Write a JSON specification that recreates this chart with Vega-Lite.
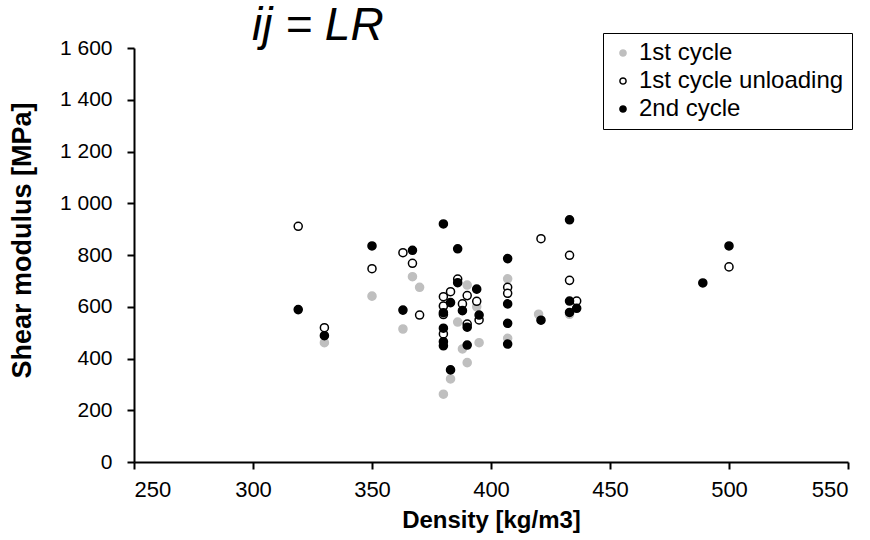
{
  "$schema": "https://vega.github.io/schema/vega-lite/v6.json",
  "width": 714,
  "height": 414,
  "autosize": {"type": "none"},
  "padding": {"left": 134, "top": 48, "right": 22, "bottom": 78},
  "background": "white",
  "title": {
    "text": "ij = LR",
    "anchor": "start",
    "frame": "group",
    "dx": 118,
    "offset": -53,
    "baseline": "alphabetic",
    "fontSize": 46,
    "fontStyle": "italic",
    "fontWeight": "normal",
    "font": "Liberation Sans",
    "color": "black"
  },
  "config": {
    "view": {"stroke": null},
    "font": "Liberation Sans",
    "axis": {
      "grid": false,
      "domainColor": "black",
      "domainWidth": 2,
      "tickColor": "black",
      "tickWidth": 2,
      "tickSize": 7,
      "labelColor": "black",
      "labelFontSize": 21,
      "labelFont": "Liberation Sans",
      "titleColor": "black",
      "titleFont": "Liberation Sans",
      "titleFontWeight": "bold"
    }
  },
  "data": {
    "values": [
      {"density": 330, "G": 461, "series": "1st cycle"},
      {"density": 350, "G": 641, "series": "1st cycle"},
      {"density": 363, "G": 514, "series": "1st cycle"},
      {"density": 367, "G": 716, "series": "1st cycle"},
      {"density": 370, "G": 675, "series": "1st cycle"},
      {"density": 380, "G": 262, "series": "1st cycle"},
      {"density": 380, "G": 600, "series": "1st cycle"},
      {"density": 383, "G": 321, "series": "1st cycle"},
      {"density": 386, "G": 541, "series": "1st cycle"},
      {"density": 390, "G": 684, "series": "1st cycle"},
      {"density": 388, "G": 437, "series": "1st cycle"},
      {"density": 390, "G": 384, "series": "1st cycle"},
      {"density": 395, "G": 461, "series": "1st cycle"},
      {"density": 394, "G": 600, "series": "1st cycle"},
      {"density": 407, "G": 708, "series": "1st cycle"},
      {"density": 407, "G": 478, "series": "1st cycle"},
      {"density": 420, "G": 571, "series": "1st cycle"},
      {"density": 433, "G": 571, "series": "1st cycle"},

      {"density": 319, "G": 911, "series": "1st cycle unloading"},
      {"density": 330, "G": 519, "series": "1st cycle unloading"},
      {"density": 350, "G": 747, "series": "1st cycle unloading"},
      {"density": 363, "G": 809, "series": "1st cycle unloading"},
      {"density": 367, "G": 768, "series": "1st cycle unloading"},
      {"density": 370, "G": 568, "series": "1st cycle unloading"},
      {"density": 380, "G": 639, "series": "1st cycle unloading"},
      {"density": 380, "G": 603, "series": "1st cycle unloading"},
      {"density": 380, "G": 570, "series": "1st cycle unloading"},
      {"density": 380, "G": 495, "series": "1st cycle unloading"},
      {"density": 383, "G": 658, "series": "1st cycle unloading"},
      {"density": 386, "G": 707, "series": "1st cycle unloading"},
      {"density": 388, "G": 611, "series": "1st cycle unloading"},
      {"density": 390, "G": 643, "series": "1st cycle unloading"},
      {"density": 390, "G": 533, "series": "1st cycle unloading"},
      {"density": 394, "G": 621, "series": "1st cycle unloading"},
      {"density": 395, "G": 549, "series": "1st cycle unloading"},
      {"density": 407, "G": 675, "series": "1st cycle unloading"},
      {"density": 407, "G": 652, "series": "1st cycle unloading"},
      {"density": 421, "G": 863, "series": "1st cycle unloading"},
      {"density": 433, "G": 799, "series": "1st cycle unloading"},
      {"density": 433, "G": 702, "series": "1st cycle unloading"},
      {"density": 436, "G": 622, "series": "1st cycle unloading"},
      {"density": 500, "G": 754, "series": "1st cycle unloading"},

      {"density": 319, "G": 589, "series": "2nd cycle"},
      {"density": 330, "G": 488, "series": "2nd cycle"},
      {"density": 350, "G": 835, "series": "2nd cycle"},
      {"density": 363, "G": 587, "series": "2nd cycle"},
      {"density": 367, "G": 818, "series": "2nd cycle"},
      {"density": 380, "G": 920, "series": "2nd cycle"},
      {"density": 380, "G": 577, "series": "2nd cycle"},
      {"density": 380, "G": 517, "series": "2nd cycle"},
      {"density": 380, "G": 465, "series": "2nd cycle"},
      {"density": 380, "G": 449, "series": "2nd cycle"},
      {"density": 383, "G": 356, "series": "2nd cycle"},
      {"density": 383, "G": 616, "series": "2nd cycle"},
      {"density": 386, "G": 824, "series": "2nd cycle"},
      {"density": 386, "G": 693, "series": "2nd cycle"},
      {"density": 388, "G": 585, "series": "2nd cycle"},
      {"density": 390, "G": 521, "series": "2nd cycle"},
      {"density": 390, "G": 452, "series": "2nd cycle"},
      {"density": 394, "G": 668, "series": "2nd cycle"},
      {"density": 395, "G": 568, "series": "2nd cycle"},
      {"density": 407, "G": 786, "series": "2nd cycle"},
      {"density": 407, "G": 611, "series": "2nd cycle"},
      {"density": 407, "G": 536, "series": "2nd cycle"},
      {"density": 407, "G": 456, "series": "2nd cycle"},
      {"density": 421, "G": 548, "series": "2nd cycle"},
      {"density": 433, "G": 936, "series": "2nd cycle"},
      {"density": 433, "G": 622, "series": "2nd cycle"},
      {"density": 433, "G": 578, "series": "2nd cycle"},
      {"density": 436, "G": 594, "series": "2nd cycle"},
      {"density": 489, "G": 692, "series": "2nd cycle"},
      {"density": 500, "G": 835, "series": "2nd cycle"}
    ]
  },
  "mark": {"type": "point", "shape": "circle", "size": 65, "strokeWidth": 1.5, "opacity": 1},
  "encoding": {
    "x": {
      "field": "density",
      "type": "quantitative",
      "scale": {"domain": [250, 550], "nice": false, "zero": false},
      "axis": {
        "title": "Density [kg/m3]",
        "values": [250, 300, 350, 400, 450, 500, 550],
        "labelFontSize": 22,
        "labelPadding": 10,
        "titleFontSize": 24,
        "titlePadding": 8
      }
    },
    "y": {
      "field": "G",
      "type": "quantitative",
      "scale": {"domain": [0, 1600], "nice": false},
      "axis": {
        "title": "Shear modulus [MPa]",
        "values": [0, 200, 400, 600, 800, 1000, 1200, 1400, 1600],
        "labelExpr": "replace(format(datum.value, ','), ',', ' ')",
        "labelPadding": 15,
        "titleFontSize": 27,
        "titleX": -112,
        "titleY": 192,
        "titleBaseline": "middle",
        "titleAlign": "center"
      }
    },
    "fill": {
      "field": "series",
      "type": "nominal",
      "sort": ["1st cycle", "1st cycle unloading", "2nd cycle"],
      "scale": {"domain": ["1st cycle", "1st cycle unloading", "2nd cycle"], "range": ["#bfbfbf", "#ffffff", "#000000"]},
      "legend": {
        "title": null,
        "orient": "none",
        "legendX": 469,
        "legendY": -15,
        "padding": 8,
        "rowPadding": 4,
        "labelFontSize": 24,
        "labelLimit": 400,
        "labelColor": "black",
        "labelFont": "Liberation Sans",
        "symbolSize": 38,
        "symbolStrokeWidth": 1.5,
        "symbolOffset": 0,
        "strokeColor": "black",
        "fillColor": "white",
        "encode": {"legend": {"update": {"strokeWidth": {"value": 2}}}}
      }
    },
    "stroke": {
      "field": "series",
      "type": "nominal",
      "sort": ["1st cycle", "1st cycle unloading", "2nd cycle"],
      "scale": {"domain": ["1st cycle", "1st cycle unloading", "2nd cycle"], "range": ["#bfbfbf", "#000000", "#000000"]}
    }
  }
}
